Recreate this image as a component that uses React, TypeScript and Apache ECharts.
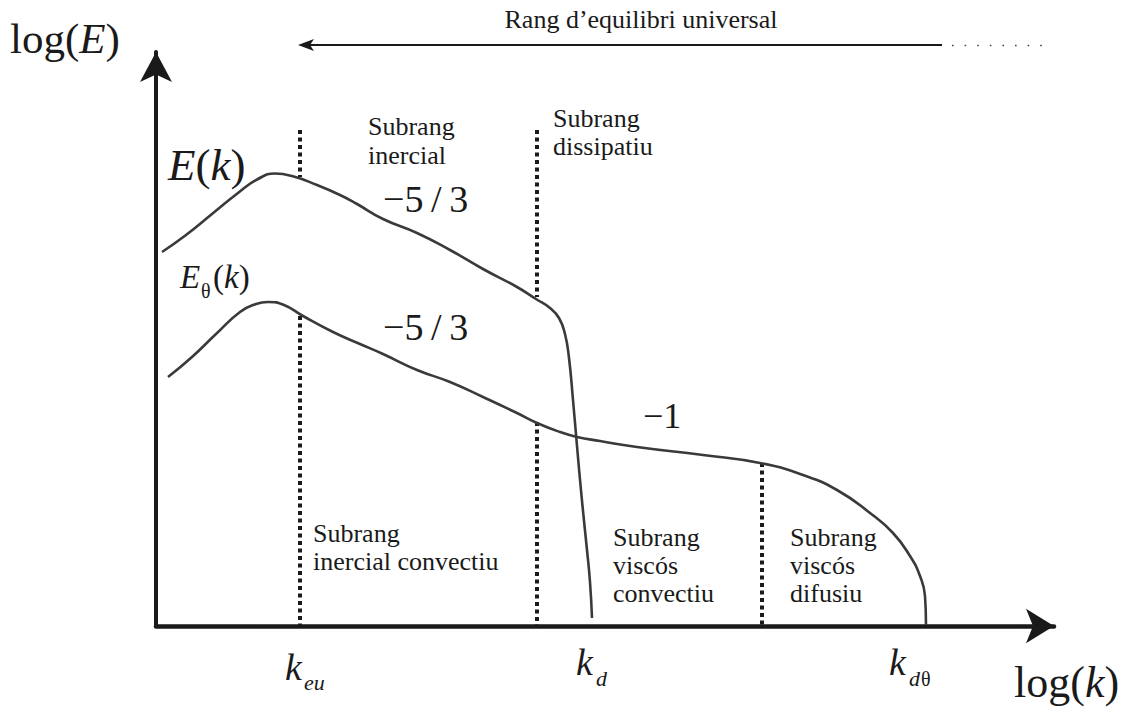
import React, { useEffect, useRef } from "react";
import * as echarts from "echarts";

// Schematic spectra: horizontal = log(k), vertical = log(E), both in arbitrary units
// measured from the corner of the axes.
const logKMax = 898;
const logEMax = 574;

// Kinetic energy spectrum E(k)
const energySpectrum: [number, number][] = [
  [6, 374], [30, 391], [56, 412], [82, 433], [102, 447], [119, 452.5],
  [136, 450], [161, 441], [184, 431], [201, 422], [227, 407], [261, 393],
  [294, 376], [327, 357], [361, 339], [380, 327], [394, 318], [403, 308],
  [409, 292], [413, 268], [417, 226], [421, 180], [426, 125], [431, 76],
  [434, 44], [436, 8],
];

// Scalar (temperature) spectrum Eθ(k)
const scalarSpectrum: [number, number][] = [
  [12, 249], [36, 269], [60, 292], [84, 314], [100, 322], [112, 324],
  [128, 321], [147, 310], [177, 294], [204, 282], [227, 272], [261, 256],
  [294, 244], [327, 229], [361, 213], [381, 203], [404, 194], [421, 189], [444, 185],
  [481, 179], [547, 171], [604, 163], [647, 151], [681, 136], [714, 113], [737, 93],
  [754, 70], [764, 50], [769, 30], [770, 1],
];

// Subrange boundaries (dotted verticals), each split where the spectra pass
const kEu = 144;
const kD = 381;
const kViscous = 606;
const dividerSegments: [number, number][][] = [
  [[kEu, 496], [kEu, 449]],
  [[kEu, 310], [kEu, 0]],
  [[kD, 496], [kD, 329]],
  [[kD, 204], [kD, 0]],
  [[kViscous, 163], [kViscous, 0]],
];

const SERIF = "'Liberation Serif', 'Times New Roman', Times, serif";
const INK = "#1a1a1a";

const fontOf = (size: number, italic: boolean) =>
  `${italic ? "italic" : "normal"} normal ${size}px ${SERIF}`;

// One run of text placed by its left (or centre) x and its baseline y.
function label(
  x: number,
  baseline: number,
  text: string,
  size: number,
  italic = false,
  align: "left" | "center" = "left"
) {
  return {
    type: "text",
    x,
    y: baseline - 0.34 * size,
    silent: true,
    style: {
      text,
      font: fontOf(size, italic),
      fill: INK,
      textAlign: align,
      textVerticalAlign: "middle",
    },
  };
}

// Mixed upright / italic text on one baseline: {n|...} upright, {i|...} italic.
function mixed(x: number, baseline: number, text: string, size: number) {
  const family = "Liberation Serif, Times New Roman, Times, serif";
  return {
    type: "text",
    x,
    y: baseline - 0.34 * size,
    silent: true,
    style: {
      text,
      fontFamily: family,
      fontSize: size,
      fill: INK,
      textAlign: "left",
      textVerticalAlign: "middle",
      rich: {
        n: { fontFamily: family, fontSize: size, fill: INK, fontStyle: "normal" },
        i: { fontFamily: family, fontSize: size, fill: INK, fontStyle: "italic" },
      },
    },
  };
}

export default function App() {
  const ref = useRef<HTMLDivElement>(null);

  useEffect(() => {
    if (!ref.current) return;
    const chart = echarts.init(ref.current, undefined, { renderer: "svg" });

    const hiddenParts = {
      axisTick: { show: false },
      axisLabel: { show: false },
      splitLine: { show: false },
    };

    const graphics: any[] = [
      // axis titles
      mixed(10, 53, "{n|log(}{i|E}{n|)}", 43),
      mixed(1014, 697, "{n|log(}{i|k}{n|)}", 44),

      // universal equilibrium range arrow
      label(641, 28, "Rang d\u2019equilibri universal", 26, false, "center"),
      {
        type: "line",
        silent: true,
        shape: { x1: 942, y1: 45, x2: 308, y2: 45 },
        style: { stroke: INK, lineWidth: 2 },
      },
      {
        type: "polygon",
        silent: true,
        shape: { points: [[298, 45], [314, 39], [310, 45], [314, 51]] },
        style: { fill: INK },
      },
      {
        type: "line",
        silent: true,
        shape: { x1: 952, y1: 45.5, x2: 1046, y2: 45.5 },
        style: { stroke: "#444", lineWidth: 1.6, lineDash: [1.6, 11] },
      },

      // subrange names
      label(368, 135, "Subrang", 26),
      label(368, 164, "inercial", 26),
      label(553, 127, "Subrang", 26),
      label(553, 155, "dissipatiu", 26),
      label(313, 542, "Subrang", 26),
      label(313, 570, "inercial convectiu", 26),
      label(613, 546, "Subrang", 26),
      label(613, 574, "visc\u00f3s", 26),
      label(613, 602, "convectiu", 26),
      label(790, 546, "Subrang", 26),
      label(790, 574, "visc\u00f3s", 26),
      label(790, 602, "difusiu", 26),

      // spectrum names
      mixed(168, 180, "{i|E}{n|(}{i|k}{n|)}", 45),
      label(180, 288, "E", 33, true),
      label(201, 298, "\u03b8", 20),
      mixed(213, 288, "{n|(}{i|k}{n|)}", 33),

      // slopes
      label(383, 212, "\u22125\u2009/\u20093", 38),
      label(383, 340, "\u22125\u2009/\u20093", 38),
      label(643, 428, "\u22121", 36),

      // characteristic wavenumbers
      label(285, 680, "k", 38, true),
      label(304, 690, "eu", 22, true),
      label(576, 675, "k", 38, true),
      label(596, 686, "d", 22, true),
      label(889, 675, "k", 38, true),
      label(909, 686, "d", 22, true),
      label(921, 686, "\u03b8", 20),
    ];

    chart.setOption({
      animation: false,
      backgroundColor: "#ffffff",
      grid: { left: 156, right: 74, top: 52, bottom: 83 },
      xAxis: {
        type: "value",
        min: 0,
        max: logKMax,
        axisLine: {
          show: true,
          onZero: false,
          symbol: ["none", "arrow"],
          symbolSize: [26, 28],
          lineStyle: { color: INK, width: 4.5 },
        },
        ...hiddenParts,
      },
      yAxis: {
        type: "value",
        min: 0,
        max: logEMax,
        axisLine: {
          show: true,
          onZero: false,
          symbol: ["none", "arrow"],
          symbolSize: [24, 30],
          lineStyle: { color: INK, width: 4 },
        },
        ...hiddenParts,
      },
      series: [
        {
          type: "line",
          name: "E(k)",
          data: energySpectrum,
          smooth: 0.5,
          showSymbol: false,
          silent: true,
          lineStyle: { color: "#3a3a3a", width: 2.6 },
          z: 3,
        },
        {
          type: "line",
          name: "E\u03b8(k)",
          data: scalarSpectrum,
          smooth: 0.5,
          showSymbol: false,
          silent: true,
          lineStyle: { color: "#3a3a3a", width: 2.6 },
          z: 3,
        },
        ...dividerSegments.map((seg) => ({
          type: "line",
          data: seg,
          showSymbol: false,
          silent: true,
          lineStyle: { color: INK, width: 4, type: [4, 3.5] },
          z: 2,
        })),
      ],
      graphic: graphics,
    });

    return () => chart.dispose();
  }, []);

  return (
    <div
      ref={ref}
      style={{ position: "fixed", left: 0, top: 0, width: 1128, height: 709, background: "#fff" }}
    />
  );
}
